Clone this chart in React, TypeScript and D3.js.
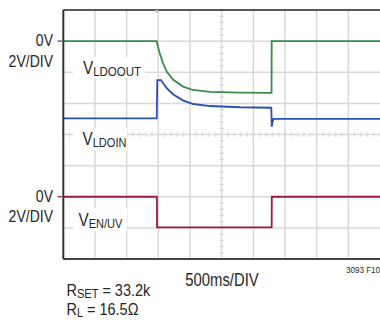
import React from "react";
import * as d3 from "d3";

// time in ms (500ms/DIV, 10 divisions), voltage in V (2V/DIV)
const timeDomain = [0, 5000];
const voltDomain = [2, -14]; // top of screen .. bottom of screen, relative to upper 0V marker
const enOffset = -10; // V_EN/UV 0V marker sits 5 divisions lower

const ldoOutT = [0, 1475, 1495, 1527, 1574, 1637, 1732, 1890, 2048, 2316, 2790, 3288, 3290, 5000];
const ldoOutV = [0, 0, -0.38, -0.83, -1.41, -1.99, -2.47, -2.92, -3.14, -3.26, -3.31, -3.32, 0, 0];

const ldoInT = [0, 1475, 1484, 1543, 1574, 1633, 1737, 1895, 2053, 2316, 2790, 3284, 3290, 3303, 3319, 5000];
const ldoInV = [-4.96, -4.96, -2.5, -2.5, -2.69, -3.02, -3.43, -3.82, -4.04, -4.17, -4.25, -4.28, -5.5, -5.2, -4.99, -4.99];

const enT = [0, 1478, 1480, 3290, 3292, 5000];
const enV = [0, 0, -1.97, -1.97, 0, 0];

const gridTimes = d3.range(500, 5000, 500);
const gridVolts = d3.range(0, -14, -2);
const minorTimes = d3.range(0, 5001, 100);
const minorVolts = d3.range(2, -14.01, -0.4);

const FONT = '"Liberation Sans", Arial, sans-serif';
const SX = 0.85; // condensed look

function T({
  x,
  y,
  size,
  anchor = "start",
  children,
}: {
  x: number;
  y: number;
  size: number;
  anchor?: string;
  children: React.ReactNode;
}) {
  return (
    <text
      transform={`translate(${x},${y}) scale(${SX},1)`}
      fontSize={size}
      textAnchor={anchor}
    >
      {children}
    </text>
  );
}

export default function App() {
  const x = d3.scaleLinear().domain(timeDomain).range([63.3, 380]);
  const y = d3.scaleLinear().domain(voltDomain).range([10, 259]);
  const line = d3
    .line<[number, number]>()
    .x((d) => x(d[0]))
    .y((d) => y(d[1]));

  const green = line(ldoOutT.map((t, i) => [t, ldoOutV[i]]));
  const blue = line(ldoInT.map((t, i) => [t, ldoInV[i]]));
  const red = line(enT.map((t, i) => [t, enV[i] + enOffset]));

  const cx = x(2500);
  const cy = y(-6);
  const gridColor = "#d9d9d9";

  return (
    <svg
      width={380}
      height={320}
      style={{ position: "absolute", left: 0, top: 0, background: "#fff" }}
      fontFamily={FONT}
    >
      {/* grid */}
      {gridTimes.map((t) => (
        <line key={"gx" + t} x1={x(t)} x2={x(t)} y1={y(2)} y2={y(-14)} stroke={gridColor} strokeWidth={1.5} />
      ))}
      {gridVolts.map((v) => (
        <line key={"gy" + v} x1={x(0)} x2={x(5000)} y1={y(v)} y2={y(v)} stroke={gridColor} strokeWidth={1.5} />
      ))}
      {/* center minor ticks */}
      {minorTimes.map((t) => (
        <line key={"mx" + t} x1={x(t)} x2={x(t)} y1={cy - 2.5} y2={cy + 2.5} stroke={gridColor} strokeWidth={1.2} />
      ))}
      {minorVolts.map((v) => (
        <line key={"my" + v} x1={cx - 2.5} x2={cx + 2.5} y1={y(v)} y2={y(v)} stroke={gridColor} strokeWidth={1.2} />
      ))}

      {/* label backgrounds */}
      <rect x={73} y={57} width={72} height={21} fill="#fff" />
      <rect x={73} y={128} width={54} height={22} fill="#fff" />
      <rect x={73} y={208} width={54} height={23} fill="#fff" />

      {/* traces */}
      <path d={green ?? ""} fill="none" stroke="#3b8b4a" strokeWidth={1.8} />
      <path d={blue ?? ""} fill="none" stroke="#2e4fb3" strokeWidth={1.8} />
      <path d={red ?? ""} fill="none" stroke="#a3183f" strokeWidth={1.8} />

      {/* frame */}
      <line x1={x(0)} x2={380} y1={y(2)} y2={y(2)} stroke="#222" strokeWidth={1.6} />
      <line x1={x(0)} x2={380} y1={y(-14)} y2={y(-14)} stroke="#444" strokeWidth={2} />
      <line x1={x(0)} x2={x(0)} y1={y(2)} y2={y(-14)} stroke="#333" strokeWidth={2} />
      <path d={`M${x(1475) - 2},${y(2)} L${x(1475) + 2},${y(2)} L${x(1475)},${y(2) + 3.5} Z`} fill="#bbb" />

      {/* channel markers */}
      <line x1={57.5} x2={62} y1={y(0)} y2={y(0)} stroke="#3a4a7a" strokeWidth={1.3} />
      <line x1={57.5} x2={62} y1={y(enOffset)} y2={y(enOffset)} stroke="#a3183f" strokeWidth={1.3} />

      <g fill="#262626">
        <T x={53} y={46} size={16.5} anchor="end">0V</T>
        <T x={53} y={67} size={16.5} anchor="end">2V/DIV</T>
        <T x={53} y={201.5} size={16.5} anchor="end">0V</T>
        <T x={53} y={222} size={16.5} anchor="end">2V/DIV</T>

        <T x={83} y={73.5} size={18}>
          V<tspan fontSize={13.5} dy={2.5}>LDOOUT</tspan>
        </T>
        <T x={82.5} y={144.5} size={18}>
          V<tspan fontSize={13} dy={2.5}>LDOIN</tspan>
        </T>
        <T x={78.5} y={225.5} size={18}>
          V<tspan fontSize={13} dy={2.5}>EN/UV</tspan>
        </T>

        <T x={222} y={286} size={17.5} anchor="middle">500ms/DIV</T>
        <T x={346} y={272.5} size={9.5}>3093 F10</T>

        <T x={66.5} y={296} size={17}>
          R<tspan fontSize={13} dy={2}>SET</tspan>
          <tspan dy={-2}> = 33.2k</tspan>
        </T>
        <T x={66.5} y={315} size={17}>
          R<tspan fontSize={13} dy={2}>L</tspan>
          <tspan dy={-2}> = 16.5Ω</tspan>
        </T>
      </g>
    </svg>
  );
}
